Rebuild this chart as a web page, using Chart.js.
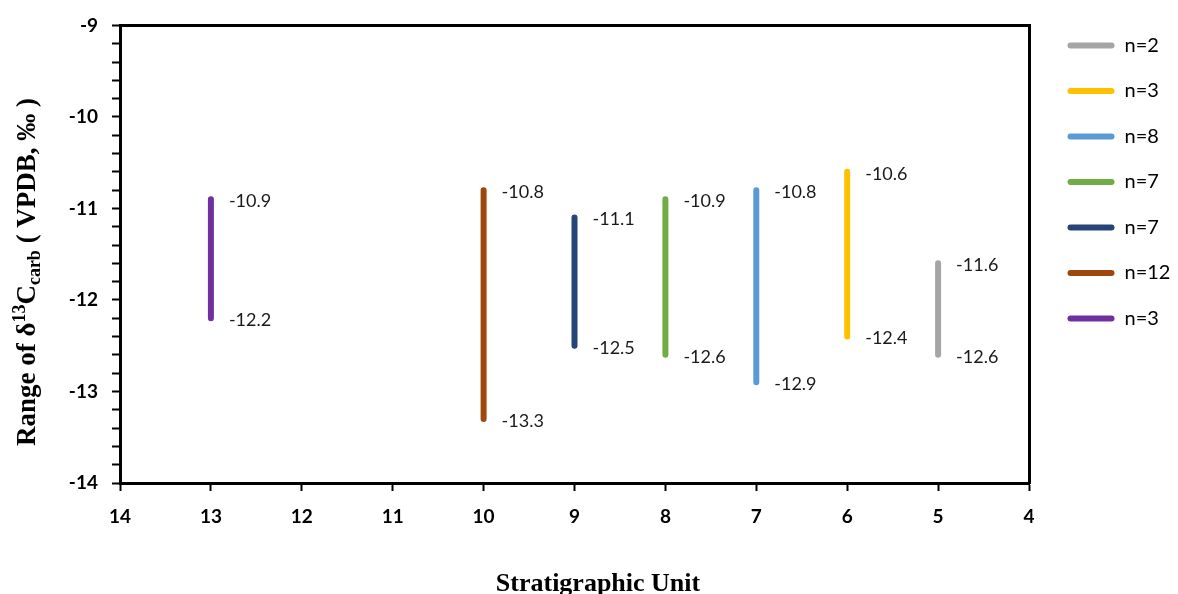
<!DOCTYPE html>
<html>
<head>
<meta charset="utf-8">
<script src="https://cdn.jsdelivr.net/npm/chart.js@4"></script>
<style>
  html, body { margin: 0; padding: 0; background: #ffffff; }
  #wrap { width: 1178px; height: 594px; position: relative; }
</style>
</head>
<body>
<div id="wrap"><canvas id="chart"></canvas></div>
<script>
// Stratigraphic units and the δ13C range (max / min) measured in each
const units = [5, 6, 7, 8, 9, 10, 13];
const highValues = [-11.6, -10.6, -10.8, -10.9, -11.1, -10.8, -10.9];
const lowValues = [-12.6, -12.4, -12.9, -12.6, -12.5, -13.3, -12.2];
const sampleCounts = ['n=2', 'n=3', 'n=8', 'n=7', 'n=7', 'n=12', 'n=3'];
const seriesColors = ['#A5A5A5', '#FFC000', '#5B9BD5', '#70AD47', '#264478', '#9E480E', '#7030A0'];

// Axis ranges
const unitMin = 4, unitMax = 14;
const deltaMin = -14, deltaMax = -9;

const SERIF = "'Times New Roman', 'Liberation Serif', serif";
const SANS = "Lato, 'Open Sans', sans-serif";

const datasets = units.map((u, i) => ({
  label: sampleCounts[i],
  data: [{ x: u, y: highValues[i] }, { x: u, y: lowValues[i] }],
  borderColor: seriesColors[i],
  backgroundColor: seriesColors[i],
  borderWidth: 6,
  borderCapStyle: 'round',
  showLine: true,
  pointRadius: 0,
  pointHoverRadius: 0,
  fill: false
}));

// Writes the end values beside each range bar
const endLabels = {
  id: 'endLabels',
  afterDatasetsDraw(chart) {
    const ctx = chart.ctx;
    ctx.save();
    ctx.font = '18px ' + SANS;
    ctx.fillStyle = '#1a1a1a';
    ctx.textAlign = 'left';
    ctx.textBaseline = 'middle';
    chart.data.datasets.forEach((ds, i) => {
      const meta = chart.getDatasetMeta(i);
      meta.data.forEach((pt, j) => {
        ctx.fillText(ds.data[j].y.toFixed(1), pt.x + 18, pt.y + 2);
      });
    });
    ctx.restore();
  }
};

// Axis titles, the vertical one with super/subscripts
const axisTitles = {
  id: 'axisTitles',
  afterDraw(chart) {
    const ctx = chart.ctx;
    ctx.save();
    ctx.fillStyle = '#000';
    ctx.textBaseline = 'alphabetic';

    // horizontal axis title
    ctx.font = 'bold 26px ' + SERIF;
    ctx.textAlign = 'center';
    ctx.fillText('Stratigraphic Unit', 598, 591);

    // vertical axis title
    const parts = [
      { t: 'Range of δ', size: 27, dy: 0 },
      { t: '13', size: 18, dy: -10 },
      { t: 'C', size: 27, dy: 0 },
      { t: 'carb', size: 18, dy: 5 },
      { t: ' ( VPDB, ‰ )', size: 27, dy: 0 }
    ];
    ctx.textAlign = 'left';
    let total = 0;
    parts.forEach(p => {
      ctx.font = 'bold ' + p.size + 'px ' + SERIF;
      p.w = ctx.measureText(p.t).width;
      total += p.w;
    });
    ctx.translate(35, 272);
    ctx.rotate(-Math.PI / 2);
    let x = -total / 2;
    parts.forEach(p => {
      ctx.font = 'bold ' + p.size + 'px ' + SERIF;
      ctx.fillText(p.t, x, p.dy);
      x += p.w;
    });
    ctx.restore();
  }
};

new Chart(document.getElementById('chart'), {
  type: 'scatter',
  data: { datasets },
  plugins: [endLabels, axisTitles],
  options: {
    responsive: true,
    maintainAspectRatio: false,
    animation: false,
    devicePixelRatio: 1,
    layout: { padding: { top: 10, left: 0, right: 0, bottom: 0 } },
    plugins: {
      tooltip: { enabled: false },
      legend: {
        position: 'right',
        align: 'start',
        maxWidth: 136,
        labels: {
          boxWidth: 47,
          boxHeight: 6,
          padding: 25.5,
          useBorderRadius: true,
          borderRadius: 3,
          color: '#1a1a1a',
          font: { family: SANS, size: 20 },
          generateLabels(chart) {
            return chart.data.datasets.map((ds, i) => ({
              text: ds.label,
              fillStyle: ds.borderColor,
              strokeStyle: ds.borderColor,
              lineWidth: 0,
              borderRadius: 3,
              hidden: false,
              datasetIndex: i
            }));
          }
        }
      }
    },
    scales: {
      x: {
        type: 'linear',
        position: 'bottom',
        min: unitMin,
        max: unitMax,
        reverse: true,
        afterFit(scale) { scale.height = 111; },
        ticks: {
          stepSize: 1,
          autoSkip: false,
          maxRotation: 0,
          padding: 14,
          color: '#000',
          font: { family: SANS, size: 19, weight: 'bold' }
        },
        grid: { drawOnChartArea: false, drawTicks: true, tickLength: 8, tickColor: '#000', tickWidth: 2 },
        border: { display: true, color: '#000', width: 3 }
      },
      xTop: {
        type: 'linear',
        position: 'top',
        min: unitMin,
        max: unitMax,
        reverse: true,
        afterFit(scale) { scale.height = 14; },
        ticks: { display: false },
        grid: { drawOnChartArea: false, drawTicks: false },
        border: { display: true, color: '#000', width: 3 }
      },
      y: {
        type: 'linear',
        position: 'left',
        min: deltaMin,
        max: deltaMax,
        afterFit(scale) { scale.width = 120; },
        ticks: {
          stepSize: 0.2,
          autoSkip: false,
          padding: 14,
          color: '#000',
          font: { family: SANS, size: 19, weight: 'bold' },
          callback(v) {
            return Math.abs(v - Math.round(v)) < 1e-6 ? String(Math.round(v)) : '';
          }
        },
        grid: { drawOnChartArea: false, drawTicks: true, tickLength: 8, tickColor: '#000', tickWidth: 2 },
        border: { display: true, color: '#000', width: 3 }
      },
      yRight: {
        type: 'linear',
        position: 'right',
        min: deltaMin,
        max: deltaMax,
        afterFit(scale) { scale.width = 13; },
        ticks: { display: false },
        grid: { drawOnChartArea: false, drawTicks: false },
        border: { display: true, color: '#000', width: 3 }
      }
    }
  }
});
</script>
</body>
</html>
